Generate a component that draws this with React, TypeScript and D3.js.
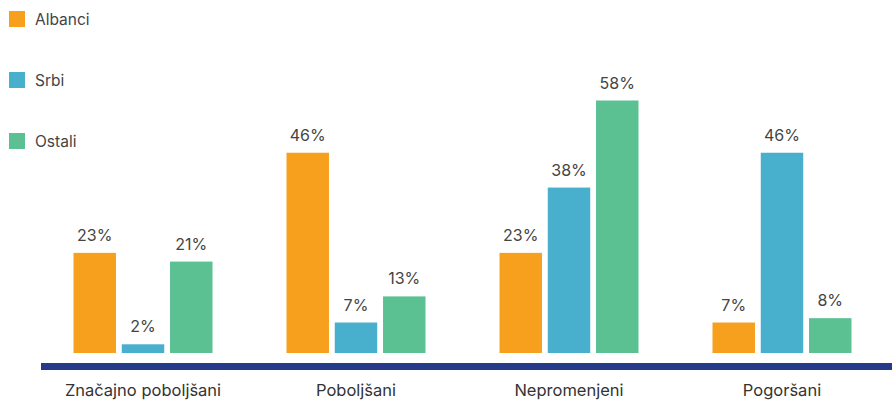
import React from "react";
import * as d3 from "d3";

const categories = ["Značajno poboljšani", "Poboljšani", "Nepromenjeni", "Pogoršani"];
const seriesNames = ["Albanci", "Srbi", "Ostali"];
const albanci = [23, 46, 23, 7];
const srbi = [2, 7, 38, 46];
const ostali = [21, 13, 58, 8];
const seriesColors = ["#F7A01D", "#48AFCD", "#5CC192"];

const W = 892;
const H = 400;
const FONT = "Inter, 'Noto Sans', sans-serif";

export default function App() {
  const values = [albanci, srbi, ostali];
  const x0 = d3.scaleBand<string>().domain(categories).range([36.5, 888.5]).paddingInner(0).paddingOuter(0);
  const x1 = d3.scaleBand<string>().domain(seriesNames).range([0, 139]).paddingInner(0.12);
  const y = d3.scaleLinear().domain([0, 58]).range([353, 100.5]);
  const innerOffset = (x0.bandwidth() - 139) / 2;

  return (
    <svg width={W} height={H} style={{ position: "absolute", left: 0, top: 0, display: "block" }} fontFamily={FONT}>
      {/* legend */}
      {seriesNames.map((s, i) => (
        <g key={s} transform={`translate(9, ${11 + i * 61})`}>
          <rect width={16} height={16} fill={seriesColors[i]} />
          <text x={26} y={14} fontSize={15.5} fill="#444">{s}</text>
        </g>
      ))}
      {/* bars */}
      {categories.map((c, ci) => (
        <g key={c} transform={`translate(${(x0(c) ?? 0) + innerOffset}, 0)`}>
          {seriesNames.map((s, si) => {
            const v = values[si][ci];
            const bx = x1(s) ?? 0;
            return (
              <g key={s}>
                <rect x={bx} y={y(v)} width={x1.bandwidth()} height={y(0) - y(v)} fill={seriesColors[si]} />
                <text x={bx + x1.bandwidth() / 2} y={y(v) - 12} textAnchor="middle" fontSize={16} fill="#444">
                  {v}%
                </text>
              </g>
            );
          })}
        </g>
      ))}
      {/* axis line */}
      <rect x={41} y={363} width={W - 41} height={7} fill="#253B8A" />
      {categories.map((c) => (
        <text key={c} x={(x0(c) ?? 0) + x0.bandwidth() / 2} y={396} textAnchor="middle" fontSize={16.5} fill="#333">
          {c}
        </text>
      ))}
    </svg>
  );
}
